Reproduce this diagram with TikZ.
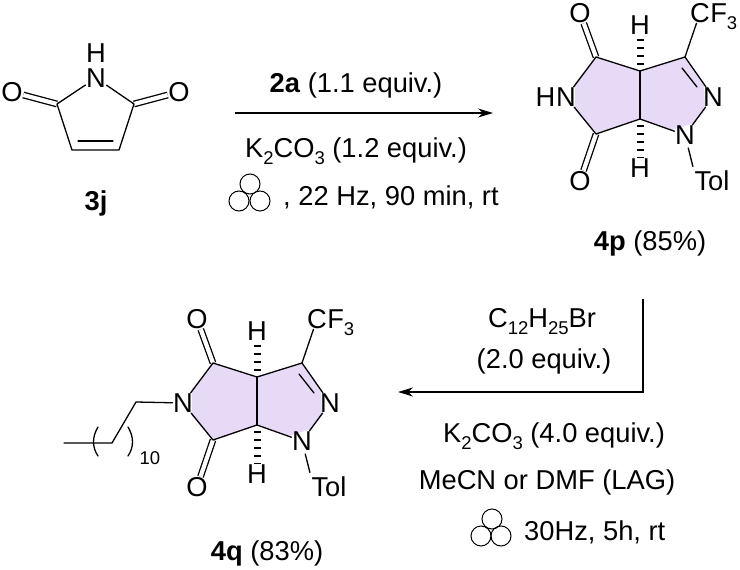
\documentclass[tikz,border=0pt]{standalone}
\usepackage{fontspec}
\setmainfont{Liberation Sans}
\usetikzlibrary{arrows.meta}
\definecolor{ringfill}{HTML}{E6DAF6}
\newcommand{\lowtxt}[1]{\raisebox{-0.26em}{\fontsize{18.5}{18.5}\selectfont #1}}
\tikzstyle{atom} = [inner sep=0.5pt]
\tikzstyle{txt} = [anchor=base, inner sep=0pt]
\tikzstyle{txtl} = [anchor=base west, inner sep=0pt]
\tikzstyle{bond} = [line width=1.3pt, line cap=round, line join=round]
\tikzstyle{dbl} = [line width=1.3pt, double, double distance=4.2pt]
\tikzstyle{hash} = [line width=7pt, dash pattern=on 1.6pt off 6.4pt, dash phase=1.6pt]
\tikzstyle{arrow} = [line width=1.3pt, ->, >={Stealth[length=15pt, width=9pt]}]
\tikzstyle{ball} = [circle, draw, line width=1pt, minimum size=20pt, inner sep=0pt]
% fused ring core, drawn at the place of 4p and shifted for 4q
\newcommand{\fusedcore}[3]{
  \begin{scope}[shift={(#1,#2)}, name prefix=#3-]
    \fill [ringfill] (596,57) -- (640,71) -- (685,57) -- (704,83) -- (705,110) -- (694,123)
      -- (672,130) -- (640,119) -- (596,134) -- (575,110) -- (575,83) -- cycle;
    \coordinate (cl1) at (596,57);
    \coordinate (cl2) at (596,134);
    \coordinate (jt) at (640,71);
    \coordinate (jb) at (640,119);
    \coordinate (cr) at (685,57);
    \coordinate (d1) at (682,68);
    \coordinate (d2) at (697,87);
    \node [atom] (nl) at (566,97) {N};
    \node [atom] (nr) at (713,97) {N};
    \node [atom] (nb) at (685,135) {N};
    \node [atom] (ot) at (580,13) {O};
    \node [atom] (ob) at (580,181) {O};
    \node [atom] (ht) at (640,25) {H};
    \node [atom] (hb) at (640,168) {H};
    \node [atom] (cf) at (700,13) {C};
    \node [txtl, xshift=-0.5pt] (ff) at (cf.base east) {F\lowtxt{3}};
    \node [atom] (tol) at (712,181) {Tol};
    \draw [dbl] (ot) -- (cl1);
    \draw [dbl] (ob) -- (cl2);
    \draw [hash] (jt) -- (ht);
    \draw [hash] (jb) -- (hb);
    \draw [bond] (nl) -- (cl1) -- (jt) -- (cr) -- (nr);
    \draw [bond] (nl) -- (cl2) -- (jb) -- (nb);
    \draw [bond] (jt) -- (jb);
    \draw [bond] (nr) -- (nb);
    \draw [bond] (d1) -- (d2);
    \draw [bond] (cr) -- (cf);
    \draw [bond, shorten <=3pt, shorten >=4pt] (nb) -- (tol.north west);
  \end{scope}
}

\begin{document}
\begin{tikzpicture}[x=1pt, y=-1pt,
      every node/.append style={font=\fontsize{27.3}{30}\selectfont}]
  \useasboundingbox (0,0) rectangle (740,570);

  % 3j
  \coordinate (cl) at (57,104);
  \coordinate (cr) at (134,104);
  \coordinate (cbl) at (72,150);
  \coordinate (cbr) at (119,150);
  \coordinate (dbl1) at (78,141);
  \coordinate (dbl2) at (113,141);
  \node [atom] (nj) at (96,78) {N};
  \node [atom] (hj) at (96,53) {H};
  \node [atom] (ol) at (12,92) {O};
  \node [atom] (or) at (179,92) {O};
  \draw [dbl] (ol) -- (cl);
  \draw [dbl] (or) -- (cr);
  \draw [bond] (nj) -- (cl) -- (cbl) -- (cbr) -- (cr) -- (nj);
  \draw [bond] (dbl1) -- (dbl2);
  \node [atom] (lab3j) at (96,203) {\textbf{3j}};

  % first step
  \coordinate (a1s) at (235,113);
  \coordinate (a1e) at (493,113);
  \draw [arrow] (a1s) -- (a1e);
  \node [txt] (r1a) at (356,92) {\textbf{2a} (1.1 equiv.)};
  \node [txt] (r1b) at (356,157) {K\lowtxt{2}CO\lowtxt{3} (1.2 equiv.)};
  \node [ball] (m1) at (250,184) {};
  \node [ball] (m2) at (239,201) {};
  \node [ball] (m3) at (260,201) {};
  \node [txtl] (r1c) at (283,205) {, 22 Hz, 90 min, rt};

  % 4p
  \fusedcore{0}{0}{p}
  \node [atom, anchor=east, inner sep=0pt] (hnp) at (p-nl.west) {H};
  \node [atom] (lab4p) at (650,243) {\textbf{4p} (85\%)};

  % second step
  \coordinate (a2s) at (643,299);
  \coordinate (a2c) at (643,392);
  \coordinate (a2e) at (398,392);
  \draw [arrow] (a2s) -- (a2c) -- (a2e);
  \node [txt] (r2a) at (542,327) {C\lowtxt{12}H\lowtxt{25}Br};
  \node [txt] (r2b) at (544,368) {(2.0 equiv.)};
  \node [txt] (r2c) at (554,442) {K\lowtxt{2}CO\lowtxt{3} (4.0 equiv.)};
  \node [txt] (r2d) at (547,489) {MeCN or DMF (LAG)};
  \node [ball] (m4) at (492,519) {};
  \node [ball] (m5) at (481,536) {};
  \node [ball] (m6) at (501,536) {};
  \node [txtl] (r2e) at (524,540) {30Hz, 5h, rt};

  % 4q
  \fusedcore{-383}{306}{q}
  \coordinate (ch1) at (136,402);
  \coordinate (ch2) at (112,443);
  \coordinate (ch3) at (64,443);
  \draw [bond] (q-nl) -- (ch1) -- (ch2) -- (ch3);
  \draw [bond] (98,427) .. controls (92,437) and (92,447) .. (98,456);
  \draw [bond] (128,427) .. controls (134,437) and (134,447) .. (128,456);
  \node [inner sep=0pt, font=\fontsize{18.5}{18.5}\selectfont] (ten) at (150,458) {10};
  \node [atom] (lab4q) at (267,553) {\textbf{4q} (83\%)};
\end{tikzpicture}
\end{document}
